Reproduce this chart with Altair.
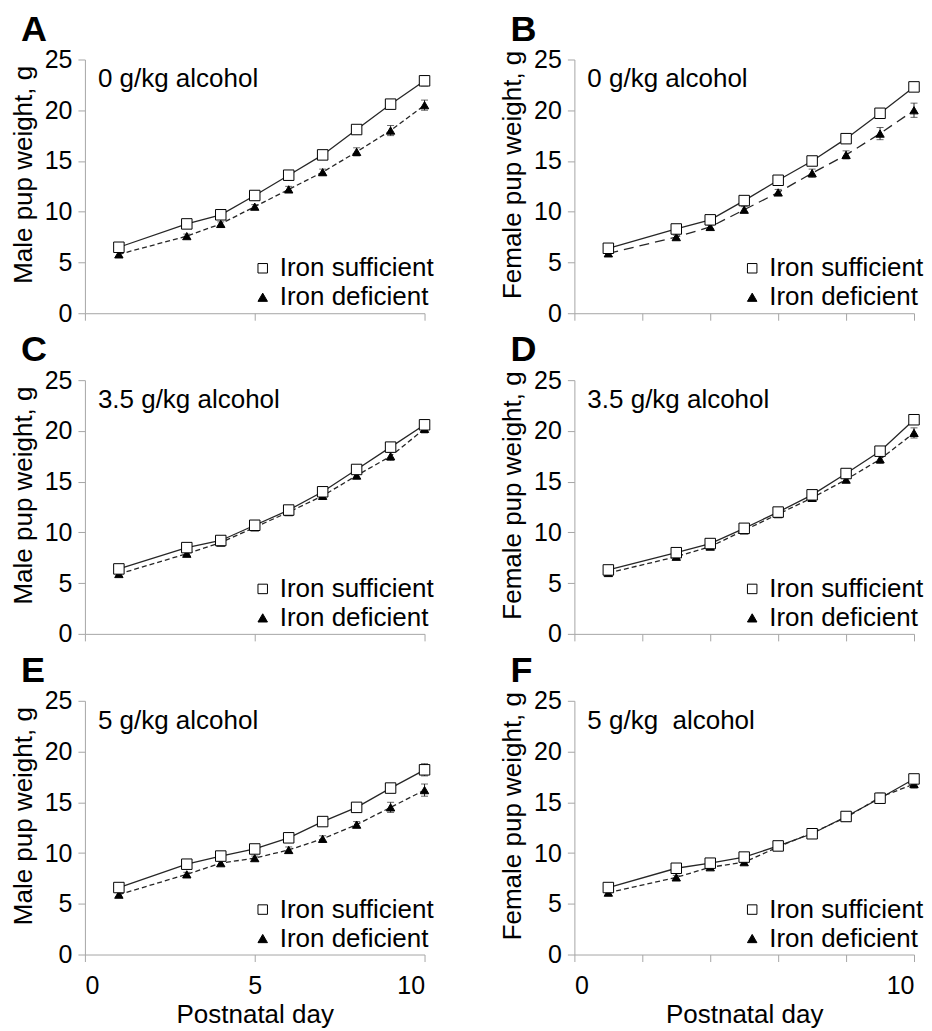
import altair as alt
import pandas as pd

FONT = "Liberation Sans"

days = [1, 3, 4, 5, 6, 7, 8, 9, 10]
groups = ["Iron sufficient", "Iron deficient"]

panel_letters = ["A", "B", "C", "D", "E", "F"]
dose_labels = ["0 g/kg alcohol", "0 g/kg alcohol", "3.5 g/kg alcohol",
               "3.5 g/kg alcohol", "5 g/kg alcohol", "5 g/kg\u00a0 alcohol"]
y_titles = ["Male pup weight, g", "Female pup weight, g"]
x_title = "Postnatal day"

a_suff = [6.5, 8.8, 9.7, 11.6, 13.6, 15.6, 18.1, 20.6, 22.9]
a_def = [5.8, 7.6, 8.8, 10.5, 12.2, 13.9, 15.9, 18.0, 20.5]
b_suff = [6.4, 8.3, 9.2, 11.1, 13.1, 15.0, 17.2, 19.7, 22.3]
b_def = [5.9, 7.5, 8.5, 10.2, 11.9, 13.8, 15.6, 17.7, 20.0]
c_suff = [6.4, 8.5, 9.2, 10.7, 12.2, 14.0, 16.2, 18.4, 20.6]
c_def = [5.9, 7.9, 9.0, 10.5, 12.0, 13.6, 15.6, 17.5, 20.2]
d_suff = [6.3, 8.0, 8.9, 10.4, 12.0, 13.7, 15.8, 18.0, 21.1]
d_def = [6.0, 7.6, 8.6, 10.2, 11.8, 13.4, 15.2, 17.2, 19.8]
e_suff = [6.6, 8.9, 9.7, 10.4, 11.5, 13.1, 14.5, 16.4, 18.2]
e_def = [5.9, 7.9, 9.0, 9.5, 10.3, 11.4, 12.8, 14.5, 16.2]
f_suff = [6.6, 8.5, 9.0, 9.6, 10.7, 11.9, 13.6, 15.4, 17.3]
f_def = [6.1, 7.6, 8.6, 9.1, 10.6, 12.0, 13.5, 15.5, 16.8]

a_suff_err = [0.2, 0.2, 0.2, 0.3, 0.3, 0.3, 0.3, 0.4, 0.5]
a_def_err = [0.2, 0.2, 0.2, 0.2, 0.3, 0.3, 0.4, 0.5, 0.5]
b_suff_err = [0.2, 0.2, 0.2, 0.2, 0.3, 0.3, 0.3, 0.4, 0.4]
b_def_err = [0.2, 0.2, 0.2, 0.3, 0.3, 0.4, 0.4, 0.6, 0.7]
c_suff_err = [0.2, 0.2, 0.2, 0.2, 0.3, 0.3, 0.3, 0.4, 0.5]
c_def_err = [0.2, 0.2, 0.2, 0.2, 0.3, 0.3, 0.3, 0.4, 0.4]
d_suff_err = [0.2, 0.2, 0.2, 0.2, 0.3, 0.3, 0.3, 0.4, 0.4]
d_def_err = [0.2, 0.2, 0.2, 0.2, 0.3, 0.3, 0.3, 0.4, 0.5]
e_suff_err = [0.2, 0.2, 0.2, 0.2, 0.3, 0.3, 0.3, 0.4, 0.6]
e_def_err = [0.2, 0.2, 0.2, 0.2, 0.3, 0.3, 0.3, 0.5, 0.6]
f_suff_err = [0.2, 0.2, 0.2, 0.2, 0.3, 0.3, 0.3, 0.4, 0.4]
f_def_err = [0.2, 0.2, 0.2, 0.2, 0.3, 0.3, 0.3, 0.4, 0.4]

series = [
    (a_suff, a_def, a_suff_err, a_def_err),
    (b_suff, b_def, b_suff_err, b_def_err),
    (c_suff, c_def, c_suff_err, c_def_err),
    (d_suff, d_def, d_suff_err, d_def_err),
    (e_suff, e_def, e_suff_err, e_def_err),
    (f_suff, f_def, f_suff_err, f_def_err),
]

LINE = "#262626"
W, H = 340, 254


def make_panel(i):
    s, d, se, de = series[i]
    row, col = i // 2, i % 2
    recs = []
    for k, day in enumerate(days):
        recs.append({"day": day, "w": s[k], "lo": s[k] - se[k], "hi": s[k] + se[k], "group": groups[0]})
        recs.append({"day": day, "w": d[k], "lo": d[k] - de[k], "hi": d[k] + de[k], "group": groups[1]})
    df = pd.DataFrame(recs)

    xkw = dict(values=list(range(11)) if col == 1 else [0, 5, 10], tickSize=7)
    if row == 2:
        xkw.update(labels=True, title=x_title, labelPadding=12, titlePadding=3)
        if col == 1:
            xkw["labelExpr"] = "datum.value % 5 == 0 ? datum.label : ''"
    else:
        xkw.update(labels=False, title=None)
    x = alt.X("day:Q", scale=alt.Scale(domain=[0, 10], nice=False), axis=alt.Axis(**xkw))
    y = alt.Y("w:Q", scale=alt.Scale(domain=[0, 25], nice=False),
              axis=alt.Axis(values=[0, 5, 10, 15, 20, 25], title=y_titles[col],
                            tickSize=7, labelPadding=6, titlePadding=8, titleY=115))

    dash = [10, 6] if i == 1 else [5, 3]
    base = alt.Chart(df)
    suff = base.transform_filter(alt.datum.group == groups[0])
    defi = base.transform_filter(alt.datum.group == groups[1])

    line_s = suff.mark_line(color=LINE, strokeWidth=1.3).encode(x=x, y=y)
    line_d = defi.mark_line(color=LINE, strokeWidth=1.3, strokeDash=dash).encode(x=x, y=y)
    rules = base.mark_rule(color=LINE, strokeWidth=1).encode(x="day:Q", y="lo:Q", y2="hi:Q")
    cap_hi = base.mark_tick(color=LINE, orient="horizontal", size=7, thickness=1).encode(x="day:Q", y="hi:Q")
    cap_lo = base.mark_tick(color=LINE, orient="horizontal", size=7, thickness=1).encode(x="day:Q", y="lo:Q")

    leg = alt.Legend(orient="none", legendX=165, legendY=196, title=None,
                     labelFontSize=26, labelFont=FONT, labelColor="black",
                     symbolStrokeWidth=1, symbolSize=90, rowPadding=3, labelOffset=4)
    shape = alt.Shape("group:N", scale=alt.Scale(domain=groups, range=["square", "triangle-up"]), legend=leg)
    fill = alt.Fill("group:N", scale=alt.Scale(domain=groups, range=["white", "black"]), legend=leg)
    stroke = alt.Stroke("group:N", scale=alt.Scale(domain=groups, range=["black", "black"]), legend=leg)
    pts_s = suff.mark_point(filled=True, strokeWidth=1, opacity=1, size=110).encode(
        x=x, y=y, shape=shape, fill=fill, stroke=stroke)
    pts_d = defi.mark_point(filled=True, strokeWidth=1, opacity=1, size=70).encode(
        x=x, y=y, shape=shape, fill=fill, stroke=stroke)
    txt = alt.Chart(pd.DataFrame({"t": [dose_labels[i]]})).mark_text(
        align="left", baseline="alphabetic", fontSize=26, font=FONT, color="black"
    ).encode(x=alt.value(13), y=alt.value(28), text="t:N")
    letter = alt.Chart(pd.DataFrame({"t": [panel_letters[i]]})).mark_text(
        align="left", baseline="alphabetic", fontSize=36, fontWeight="bold", font=FONT, color="black"
    ).encode(x=alt.value(-64), y=alt.value(-19), text="t:N")

    return alt.layer(line_s, line_d, rules, cap_hi, cap_lo, pts_d, pts_s, txt, letter).properties(
        width=W, height=H,
    )


charts = [make_panel(i) for i in range(6)]
chart = alt.concat(
    *charts, columns=2, spacing=alt.RowColnumber(row=67, column=150), bounds="flush"
).resolve_scale(
    shape="independent", fill="independent", stroke="independent"
).resolve_legend(
    shape="independent", fill="independent", stroke="independent"
).properties(
    padding={"left": 2, "top": 3, "right": 0, "bottom": 0}
).configure_axis(
    domainColor="#a6a6a6", tickColor="#a6a6a6", labelColor="black", titleColor="black",
    labelFont=FONT, titleFont=FONT, labelFontSize=25, titleFontSize=26, titleFontWeight="normal",
    grid=False,
).configure_view(stroke=None)

chart.save("out.html", embed_options={"renderer": "svg", "actions": False})
